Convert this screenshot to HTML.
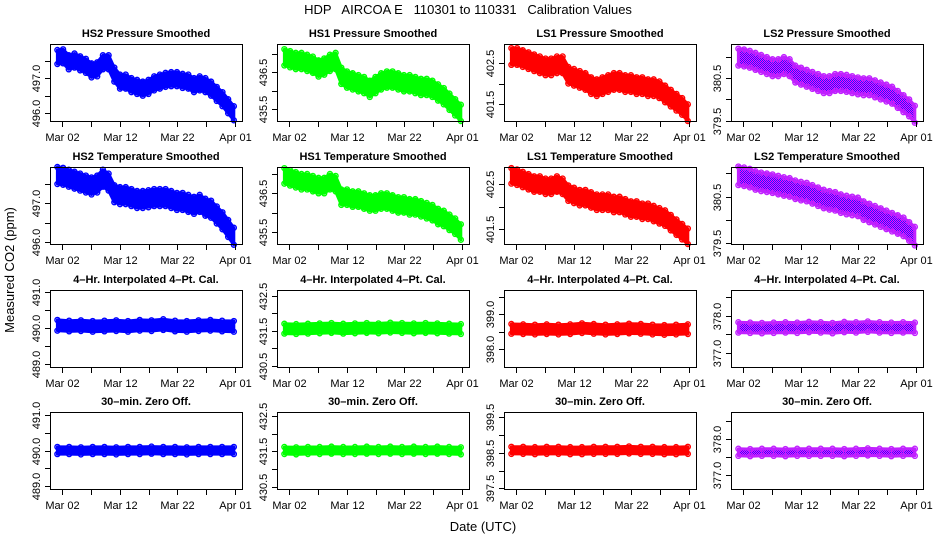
<!DOCTYPE html>
<html><head><meta charset="utf-8"><style>
html,body{margin:0;padding:0;background:#fff;}
svg{display:block;font-family:"Liberation Sans",Arial,sans-serif;}
</style></head><body>
<svg id="chart" width="936" height="540" viewBox="0 0 936 540" xmlns="http://www.w3.org/2000/svg">
<defs>
<pattern id="chk" width="2" height="2" patternUnits="userSpaceOnUse">
<rect width="2" height="2" fill="#ff00ff"/><rect width="1" height="1" fill="#2020ff"/><rect x="1" y="1" width="1" height="1" fill="#2020ff"/>
</pattern>
</defs>
<text x="468" y="14" text-anchor="middle" font-size="13" style="white-space:pre" xml:space="preserve">HDP   AIRCOA E   110301 to 110331   Calibration Values</text>
<text transform="translate(14,270) rotate(-90)" text-anchor="middle" font-size="13">Measured CO2 (ppm)</text>
<text x="483" y="531" text-anchor="middle" font-size="13">Date (UTC)</text>
</svg>
<script>
const titles = ["HS2 Pressure Smoothed","HS1 Pressure Smoothed","LS1 Pressure Smoothed","LS2 Pressure Smoothed",
"HS2 Temperature Smoothed","HS1 Temperature Smoothed","LS1 Temperature Smoothed","LS2 Temperature Smoothed",
"4\u2013Hr. Interpolated 4\u2013Pt. Cal.","4\u2013Hr. Interpolated 4\u2013Pt. Cal.","4\u2013Hr. Interpolated 4\u2013Pt. Cal.","4\u2013Hr. Interpolated 4\u2013Pt. Cal.",
"30\u2013min. Zero Off.","30\u2013min. Zero Off.","30\u2013min. Zero Off.","30\u2013min. Zero Off."];
const xTickDays = [0,5,10,15,20,25,30];
const xTickLabels = ["Mar 02","","Mar 12","","Mar 22","","Apr 01"];
const firstDay = -0.8, lastDay = 29.8;
const yDomains = [[495.78,497.97],[435.18,437.26],[401.1,402.95],[379.49,381.31],
[495.95,497.94],[435.19,437.18],[401.18,402.875],[379.48,381.14],
[488.91,491.07],[430.47,432.66],[397.48,399.70],[376.61,378.69],
[488.92,491.08],[430.43,432.61],[397.48,399.65],[376.6,378.76]];
const yTicks = [[496,496.5,497,497.5],[435.5,436,436.5,437],[401.5,402,402.5],[379.5,380,380.5,381],
[496,496.5,497,497.5],[435.5,436,436.5,437],[401.5,402,402.5],[379.5,380,380.5,381],
[489,489.5,490,490.5,491],[430.5,431,431.5,432,432.5],[398,398.5,399,399.5],[377,377.5,378,378.5],
[489,489.5,490,490.5,491],[430.5,431,431.5,432,432.5],[397.5,398,398.5,399,399.5],[377,377.5,378,378.5]];
const yTickLabels = [["496.0","","497.0",""],["435.5","","436.5",""],["401.5","","402.5"],["379.5","","380.5",""],
["496.0","","497.0",""],["435.5","","436.5",""],["401.5","","402.5"],["379.5","","380.5",""],
["489.0","","490.0","","491.0"],["430.5","","431.5","","432.5"],["398.0","","399.0",""],["377.0","","378.0",""],
["489.0","","490.0","","491.0"],["430.5","","431.5","","432.5"],["397.5","","398.5","","399.5"],["377.0","","378.0",""]];
const mid0 = [497.6,497.62,497.45,497.5,497.42,497.35,497.22,497.25,497.45,497.45,497.1,496.9,496.9,496.8,496.75,496.7,496.75,496.85,496.9,496.95,496.97,496.97,496.92,496.9,496.8,496.85,496.8,496.7,496.55,496.4,496.2,496.0];
const mid1 = [436.9,436.85,436.8,436.8,436.75,436.7,436.6,436.65,436.75,436.8,436.4,436.3,436.25,436.2,436.15,436.05,436.15,436.25,436.3,436.3,436.25,436.2,436.2,436.15,436.1,436.1,436.05,435.95,435.85,435.7,435.55,435.4];
const mid2 = [402.65,402.65,402.6,402.55,402.5,402.45,402.4,402.4,402.45,402.45,402.2,402.15,402.1,402.05,401.95,401.9,401.95,402.0,402.05,402.05,402.0,402.0,401.95,401.95,401.9,401.9,401.85,401.75,401.65,401.55,401.45,401.3];
const mid3 = [381.0,380.98,380.95,380.9,380.85,380.8,380.75,380.75,380.8,380.75,380.6,380.55,380.5,380.45,380.4,380.35,380.35,380.4,380.4,380.38,380.35,380.32,380.3,380.3,380.25,380.2,380.15,380.1,380.0,379.9,379.8,379.65];
const mid4 = [497.72,497.7,497.65,497.6,497.55,497.5,497.45,497.5,497.65,497.55,497.25,497.2,497.2,497.15,497.1,497.1,497.12,497.15,497.15,497.15,497.1,497.05,497.05,497.0,496.95,497.0,496.9,496.85,496.7,496.55,496.35,496.15];
const mid5 = [436.95,436.9,436.85,436.8,436.8,436.75,436.7,436.7,436.8,436.75,436.4,436.4,436.35,436.35,436.3,436.25,436.25,436.3,436.3,436.25,436.2,436.2,436.15,436.15,436.1,436.05,436.0,435.9,435.85,435.75,435.65,435.5];
const mid6 = [402.68,402.65,402.6,402.55,402.5,402.5,402.45,402.45,402.5,402.45,402.3,402.25,402.2,402.2,402.15,402.1,402.1,402.1,402.05,402.05,402.0,401.95,401.95,401.9,401.9,401.85,401.8,401.75,401.65,401.55,401.45,401.35];
const mid7 = [380.95,380.93,380.9,380.85,380.82,380.8,380.78,380.75,380.72,380.7,380.65,380.62,380.6,380.55,380.5,380.45,380.42,380.4,380.35,380.32,380.3,380.28,380.2,380.15,380.1,380.05,380.0,379.95,379.9,379.85,379.75,379.65];
const mid8 = [490.08,490.06,490.07,490.05,490.06,490.07,490.05,490.08,490.07,490.1,490.06,490.05,490.07,490.08,490.06,490.05];
const mid9 = [431.56,431.55,431.56,431.57,431.58,431.56,431.57,431.58,431.57,431.59,431.58,431.57,431.58,431.57,431.56,431.55];
const mid10 = [398.58,398.57,398.56,398.57,398.56,398.57,398.6,398.58,398.56,398.57,398.59,398.58,398.56,398.55,398.56,398.57];
const mid11 = [377.68,377.67,377.66,377.67,377.68,377.67,377.69,377.68,377.66,377.69,377.68,377.70,377.68,377.67,377.68,377.67];
const mid12 = [490.0,490.0,489.99,490.0,490.0,489.99,490.0,490.0,490.01,490.0,490.0,489.99,490.0,490.0,490.0,490.0];
const mid13 = [431.52,431.51,431.52,431.52,431.53,431.52,431.52,431.53,431.52,431.53,431.52,431.53,431.52,431.53,431.52,431.51];
const mid14 = [398.57,398.57,398.56,398.57,398.57,398.56,398.56,398.57,398.57,398.57,398.58,398.57,398.57,398.56,398.56,398.57];
const mid15 = [377.63,377.62,377.63,377.63,377.62,377.63,377.63,377.63,377.63,377.62,377.63,377.64,377.63,377.62,377.63,377.63];
const mids = [mid0,mid1,mid2,mid3,mid4,mid5,mid6,mid7,mid8,mid9,mid10,mid11,mid12,mid13,mid14,mid15];
const halfWidths = [0.2,0.22,0.2,0.2,0.22,0.2,0.17,0.2,0.15,0.14,0.14,0.14,0.1,0.1,0.1,0.1];

const colLefts=[50,277,504,731], rowTops=[44,167,290,412], PW=192, PH=77;
const colColors=["#0000ff","#00ff00","#ff0000","url(#chk)"];
const colStroke=["#0000ff","#00ff00","#ff0000","#c020ff"];
const svg=document.getElementById('chart');
const NS="http://www.w3.org/2000/svg";
function mk(tag,attrs,parent){const e=document.createElementNS(NS,tag);for(const k in attrs)e.setAttribute(k,attrs[k]);(parent||svg).appendChild(e);return e;}

for(let p=0;p<16;p++){
  const col=p%4,row=Math.floor(p/4);
  const L=colLefts[col],T=rowTops[row];
  const g=mk('g',{});
  
  
  const xs=d=>L+12+d*173/30;
  const [y0,y1]=yDomains[p];
  const ys=v=>T+PH-(v-y0)/(y1-y0)*PH;
  const t=mk('text',{x:L+PW/2,y:T-7,'text-anchor':'middle','font-size':'11','font-weight':'bold'},g);
  t.textContent=titles[p];
  
  
  const m=mids[p],hw=halfWidths[p],n=m.length;
  const dayAt=i=>firstDay+i*(lastDay-firstDay)/(n-1);
  let up=[],dn=[];
  for(let i=0;i<n;i++){up.push(xs(dayAt(i)).toFixed(1)+','+ys(m[i]+hw).toFixed(1));dn.unshift(xs(dayAt(i)).toFixed(1)+','+ys(m[i]-hw).toFixed(1));}
  const band=mk('polygon',{points:up.concat(dn).join(' '),fill:colColors[col],stroke:colStroke[col],'stroke-width':'3','stroke-linejoin':'round'},g);
  
  
  for(let i=0;i<n;i++){
    for(const v of [m[i]+hw,m[i]-hw]){
      const c=mk('circle',{cx:xs(dayAt(i)),cy:ys(v),r:2.5,fill:'none',stroke:colStroke[col],'stroke-width':'1.4'},g);
      
      
    }
  }
  const fr=mk('rect',{x:L+0.5,y:T+0.5,width:PW,height:PH,fill:'none',stroke:'#000','stroke-width':'1'},g);
  
  
  xTickDays.forEach((d,k)=>{
    const x=Math.round(xs(d))+0.5;
    mk('line',{x1:x,x2:x,y1:T+PH+0.5,y2:T+PH+6,stroke:'#000'},g);
    if(xTickLabels[k]){const tl=mk('text',{x:x,y:T+PH+20,'text-anchor':'middle','font-size':'11'},g);tl.textContent=xTickLabels[k];
      
      }
  });
  yTicks[p].forEach((v,k)=>{
    const y=Math.round(ys(v))+0.5;
    mk('line',{x1:L-5,x2:L+0.5,y1:y,y2:y,stroke:'#000'},g);
    const lab=yTickLabels[p][k];
    if(lab){const tl=mk('text',{transform:'translate('+(L-10)+','+y+') rotate(-90)','text-anchor':'middle','font-size':'11'},g);tl.textContent=lab;
      
      }
  });
}
</script>
</body></html>
